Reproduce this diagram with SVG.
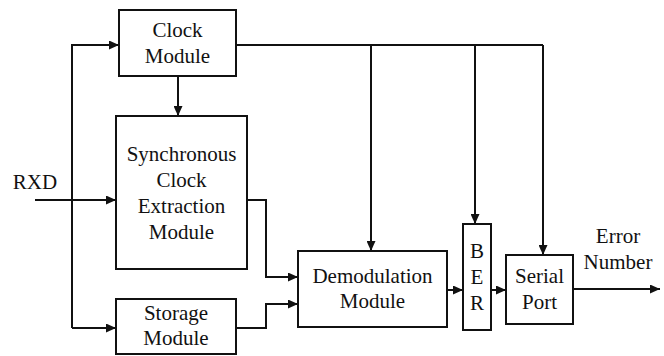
<svg xmlns="http://www.w3.org/2000/svg" width="664" height="356" viewBox="0 0 664 356">
  <style>
    .box { fill: #fff; stroke: #111; stroke-width: 2; }
    .wire { fill: none; stroke: #111; stroke-width: 2; }
    .lbl { font-family: 'Liberation Serif', Tinos, 'Noto Serif', 'DejaVu Serif', serif; font-size: 21px; fill: #111; text-anchor: middle; }
  </style>
  <defs>
    <marker id="arrow" markerUnits="userSpaceOnUse" markerWidth="11" markerHeight="9" refX="10" refY="4.5" orient="auto">
      <path d="M0,0 L10,4.5 L0,9 Z" fill="#111"/>
    </marker>
  </defs>

  <rect width="664" height="356" fill="#fff"/>

  <g id="connectors">
    <!-- RXD fan-out -->
    <path class="wire" d="M35,200 H116" marker-end="url(#arrow)"/>
    <path class="wire" d="M72,328 V45 H119" marker-end="url(#arrow)"/>
    <path class="wire" d="M72,328 H116" marker-end="url(#arrow)"/>
    <!-- clock distribution -->
    <path class="wire" d="M178,76 V116" marker-end="url(#arrow)"/>
    <path class="wire" d="M236,45 H543"/>
    <path class="wire" d="M371,45 V251" marker-end="url(#arrow)"/>
    <path class="wire" d="M475,45 V224" marker-end="url(#arrow)"/>
    <path class="wire" d="M543,45 V255" marker-end="url(#arrow)"/>
    <!-- data path -->
    <path class="wire" d="M247,200 H266 V277 H298" marker-end="url(#arrow)"/>
    <path class="wire" d="M236,328 H266 V304 H298" marker-end="url(#arrow)"/>
    <path class="wire" d="M447,290 H463" marker-end="url(#arrow)"/>
    <path class="wire" d="M491,290 H506" marker-end="url(#arrow)"/>
    <path class="wire" d="M573,289 H660" marker-end="url(#arrow)"/>
  </g>

  <g id="rxd-label">
    <text class="lbl" x="35" y="189">RXD</text>
  </g>

  <g id="clock-module">
    <rect class="box" x="119" y="10" width="117" height="66"/>
    <text class="lbl" x="177.5" y="37">Clock</text>
    <text class="lbl" x="177.5" y="63">Module</text>
  </g>

  <g id="sync-clock-extraction">
    <rect class="box" x="116" y="116" width="131" height="153"/>
    <text class="lbl" x="181.5" y="161">Synchronous</text>
    <text class="lbl" x="181.5" y="187">Clock</text>
    <text class="lbl" x="181.5" y="213">Extraction</text>
    <text class="lbl" x="181.5" y="239">Module</text>
  </g>

  <g id="storage-module">
    <rect class="box" x="116" y="299" width="120" height="55"/>
    <text class="lbl" x="176" y="320">Storage</text>
    <text class="lbl" x="176" y="345">Module</text>
  </g>

  <g id="demodulation-module">
    <rect class="box" x="298" y="251" width="149" height="76"/>
    <text class="lbl" x="372.5" y="283">Demodulation</text>
    <text class="lbl" x="372.5" y="308">Module</text>
  </g>

  <g id="ber">
    <rect class="box" x="463" y="224" width="28" height="106"/>
    <text class="lbl" x="477" y="258">B</text>
    <text class="lbl" x="477" y="284">E</text>
    <text class="lbl" x="477" y="310">R</text>
  </g>

  <g id="serial-port">
    <rect class="box" x="506" y="255" width="67" height="69"/>
    <text class="lbl" x="539.5" y="283">Serial</text>
    <text class="lbl" x="539.5" y="309">Port</text>
  </g>

  <g id="error-number-label">
    <text class="lbl" x="618" y="243">Error</text>
    <text class="lbl" x="618" y="269">Number</text>
  </g>
</svg>
